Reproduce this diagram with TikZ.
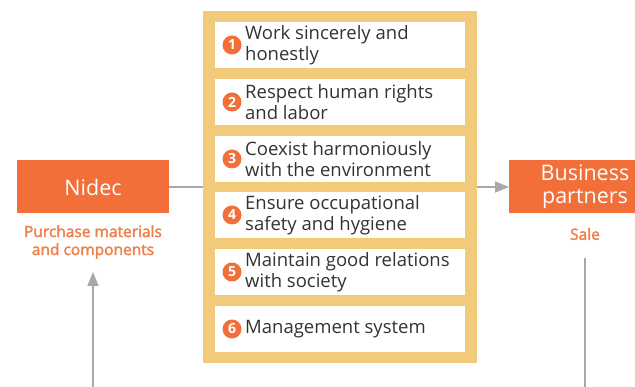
\documentclass[tikz,border=0pt]{standalone}
\usepackage{fontspec}
\setmainfont{Open Sans}
\newfontfamily\semibold[FakeBold=2.5]{Open Sans}
\usetikzlibrary{arrows.meta}
\definecolor{nidecorange}{HTML}{F26F3A}
\definecolor{labelorange}{HTML}{F0804C}
\definecolor{frameyellow}{HTML}{F2CA7C}
\definecolor{bodytext}{HTML}{333333}
\definecolor{linegray}{HTML}{A8A8A8}
\tikzset{
  orangebox/.style={fill=nidecorange, text=white, inner sep=0pt, outer sep=0pt,
    minimum width=152pt, minimum height=53pt, font=\fontsize{21.5}{23}\selectfont, align=center},
  sublabel/.style={text=labelorange, font=\semibold\fontsize{15.5}{18}\selectfont, align=center, inner sep=0pt},
  itembox/.style={fill=white, inner sep=0pt, outer sep=0pt, minimum width=250pt, minimum height=46pt},
  numcircle/.style={circle, fill=nidecorange, text=white, inner sep=0pt, minimum size=19pt,
    font=\bfseries\fontsize{14}{14}\selectfont},
  itemtext/.style={anchor=west, text=bodytext, align=left, inner sep=0pt,
    font=\fontsize{18.5}{21.5}\selectfont},
  connector/.style={draw=linegray, line width=1.7pt},
  tip/.style={-{Triangle[length=14pt,width=11pt]}}
}
\begin{document}
\begin{tikzpicture}[x=1pt,y=-1pt]
\useasboundingbox (0,0) rectangle (635,387);
\clip (0,0) rectangle (635,387);
\node[fill=frameyellow, inner sep=0pt, outer sep=0pt, minimum width=274pt, minimum height=352pt] (frame) at (340,187) {};
\foreach \i/\y/\t in {1/45/{Work sincerely and\\honestly},
                      2/102/{Respect human rights\\and labor},
                      3/159/{Coexist harmoniously\\with the environment},
                      4/215/{Ensure occupational\\safety and hygiene},
                      5/272/{Maintain good relations\\with society},
                      6/329/{Management system}} {
  \node[itembox] (item\i) at (340,\y) {};
  \node[numcircle] (num\i) at (232,\y) {\i};
  \node[itemtext] (text\i) at (245,\y) {\t};
}
\node[orangebox] (nidec) at (93,187) {Nidec};
\node[orangebox] (bp) at (585,187) {Business\\partners};
\node[sublabel] (purchase) at (93,242) {Purchase materials\\and components};
\node[sublabel] (sale) at (585,234) {Sale};
\coordinate (upstart) at (93,390);
\coordinate (upend) at (93,272);
\coordinate (salestart) at (585,258);
\coordinate (saleend) at (585,390);
\draw[connector] (nidec.east) -- (frame.west);
\draw[connector, tip, fill=linegray] (frame.east) -- (bp.west);
\draw[connector, tip, fill=linegray] (upstart) -- (upend);
\draw[connector] (salestart) -- (saleend);
\end{tikzpicture}
\end{document}
